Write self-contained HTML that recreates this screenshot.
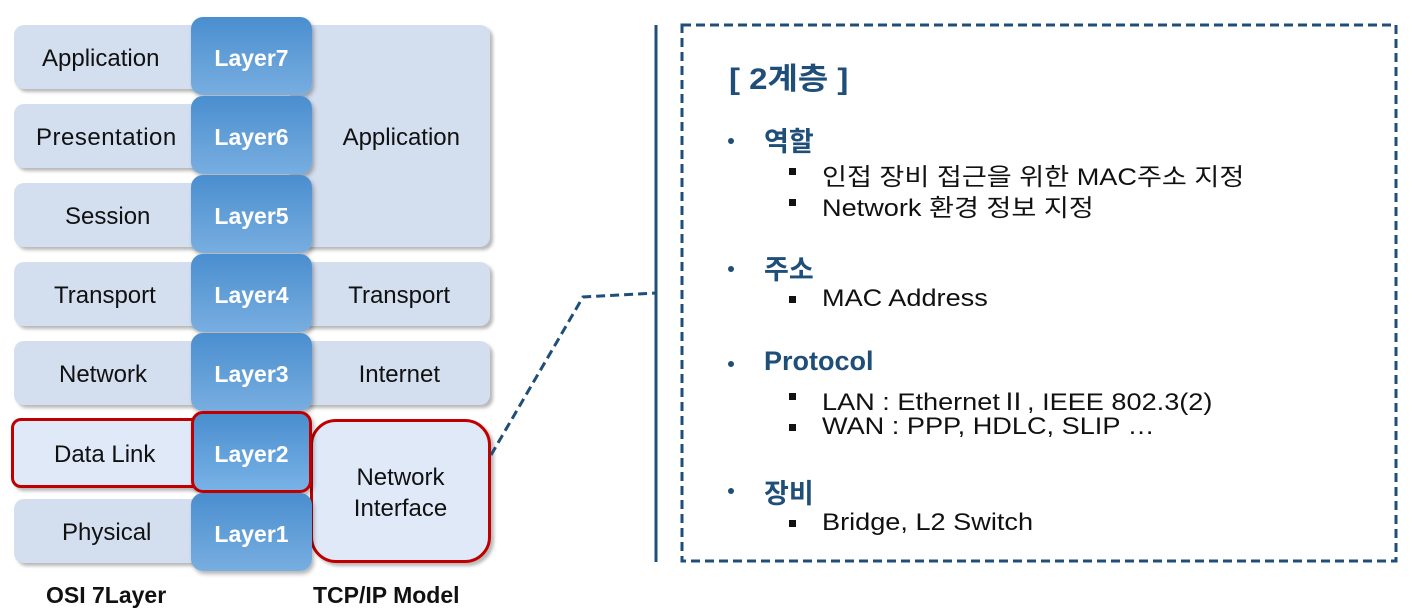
<!DOCTYPE html>
<html><head><meta charset="utf-8"><style>
body{margin:0;width:1422px;height:610px;background:#fff;position:relative;overflow:hidden;font-family:"Liberation Sans","Noto Sans CJK KR",sans-serif;}
.b{position:absolute;background:#d3deef;border-radius:10px;box-shadow:3px 3px 3px rgba(0,0,0,.28);display:flex;align-items:center;justify-content:center;font-size:24px;color:#111;padding-top:4px;}
.l{position:absolute;left:191px;width:121px;height:78px;border-radius:12px;background:linear-gradient(#4a8ecf,#78aee0);box-shadow:2px 3px 4px rgba(0,0,0,.3);display:flex;align-items:center;justify-content:center;color:#fff;font-weight:bold;font-size:23px;padding-top:5px;box-sizing:border-box;}
.red{border:3px solid #c00000;background:#dfe9f8;box-sizing:border-box;}
.t{position:absolute;white-space:nowrap;transform-origin:left center;}
.h{color:#1f4e79;font-weight:bold;font-size:27px;}
.s{font-size:24px;color:#111;transform:scaleX(1.13);}
.dot{position:absolute;width:6px;height:6px;border-radius:3px;background:#1f4e79;}
.sq{position:absolute;width:7px;height:7px;background:#111;}
</style></head><body>
<div class="b" style="left:14px;top:25px;width:200px;height:64px;justify-content:flex-start;padding-left:28px;box-sizing:border-box">Application</div>
<div class="b" style="left:14px;top:104px;width:200px;height:64px;justify-content:flex-start;padding-left:22px;box-sizing:border-box;letter-spacing:0.5px">Presentation</div>
<div class="b" style="left:14px;top:183px;width:200px;height:64px;justify-content:flex-start;padding-left:51px;box-sizing:border-box">Session</div>
<div class="b" style="left:14px;top:262px;width:200px;height:64px;justify-content:flex-start;padding-left:40px;box-sizing:border-box">Transport</div>
<div class="b" style="left:14px;top:341px;width:200px;height:64px;justify-content:flex-start;padding-left:45px;box-sizing:border-box">Network</div>
<div class="b red" style="left:11px;top:418px;width:200px;height:70px;justify-content:flex-start;padding-left:40px;">Data Link</div>
<div class="b" style="left:14px;top:499px;width:200px;height:64px;justify-content:flex-start;padding-left:48px;box-sizing:border-box">Physical</div>

<div class="b" style="left:290px;top:25px;width:200px;height:222px;justify-content:flex-end;padding-right:30px;box-sizing:border-box">Application</div>
<div class="b" style="left:290px;top:262px;width:200px;height:64px;justify-content:flex-end;padding-right:40px;box-sizing:border-box">Transport</div>
<div class="b" style="left:290px;top:341px;width:200px;height:64px;justify-content:flex-end;padding-right:50px;box-sizing:border-box">Internet</div>
<div class="b red" style="left:310px;top:419px;width:181px;height:144px;border-radius:26px;text-align:center;line-height:31px;">Network<br>Interface</div>

<div class="l" style="top:17px">Layer7</div>
<div class="l" style="top:96px">Layer6</div>
<div class="l" style="top:175px">Layer5</div>
<div class="l" style="top:254px">Layer4</div>
<div class="l" style="top:333px">Layer3</div>
<div class="l red" style="top:411px;background:linear-gradient(#4a8ecf,#78b2e6);height:82px">Layer2</div>
<div class="l" style="top:493px">Layer1</div>

<div class="t" style="left:46px;top:582px;font-weight:bold;font-size:23px;color:#111">OSI 7Layer</div>
<div class="t" style="left:313px;top:582px;font-weight:bold;font-size:23px;color:#111">TCP/IP Model</div>

<svg style="position:absolute;left:0;top:0" width="1422" height="610">
<line x1="656" y1="25" x2="656" y2="562" stroke="#1f4e79" stroke-width="3"/>
<polyline points="491,455 583,297 656,293" fill="none" stroke="#1f4e79" stroke-width="3" stroke-dasharray="9,5"/>
<rect x="682" y="25" width="714" height="536" fill="none" stroke="#1f4e79" stroke-width="3" stroke-dasharray="9,5"/>
</svg>

<div class="t h" style="left:729px;top:54px;font-size:30px;transform:scaleX(1.1)">[ 2계층 ]</div>
<div class="dot" style="left:728px;top:138px"></div>
<div class="t h" style="left:764px;top:120px">역할</div>
<div class="sq" style="left:789px;top:168px"></div>
<div class="t s" style="left:822px;top:157px">인접 장비 접근을 위한 MAC주소 지정</div>
<div class="sq" style="left:789px;top:199px"></div>
<div class="t s" style="left:822px;top:188px">Network 환경 정보 지정</div>
<div class="dot" style="left:728px;top:266px"></div>
<div class="t h" style="left:764px;top:248px">주소</div>
<div class="sq" style="left:789px;top:296px"></div>
<div class="t s" style="left:822px;top:285px">MAC Address</div>
<div class="dot" style="left:728px;top:361px"></div>
<div class="t h" style="left:764px;top:346px">Protocol</div>
<div class="sq" style="left:789px;top:393px"></div>
<div class="t s" style="left:822px;top:382px">LAN : EthernetⅡ, IEEE 802.3(2)</div>
<div class="sq" style="left:789px;top:424px"></div>
<div class="t s" style="left:822px;top:413px">WAN : PPP, HDLC, SLIP …</div>
<div class="dot" style="left:728px;top:488px"></div>
<div class="t h" style="left:764px;top:472px">장비</div>
<div class="sq" style="left:789px;top:520px"></div>
<div class="t s" style="left:822px;top:509px">Bridge, L2 Switch</div>
</body></html>
